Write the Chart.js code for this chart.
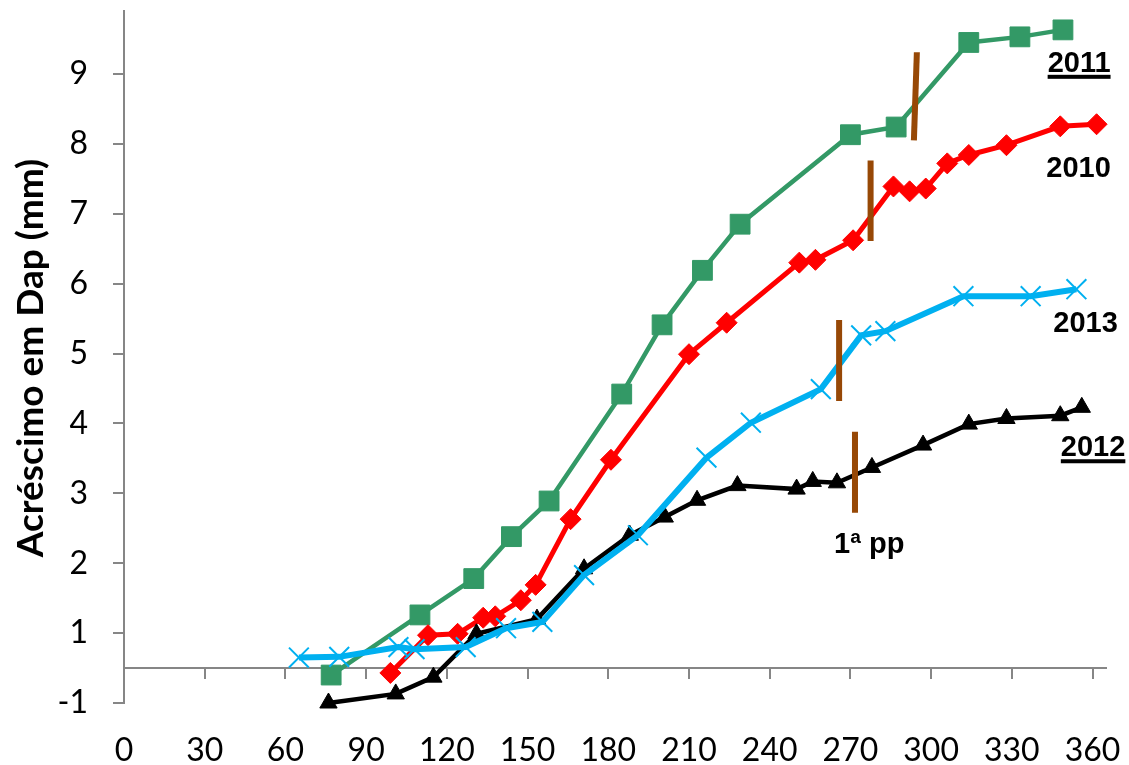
<!DOCTYPE html>
<html>
<head>
<meta charset="utf-8">
<title>Acréscimo em Dap</title>
<script src="https://cdn.jsdelivr.net/npm/chart.js@4.4.1/dist/chart.umd.min.js"></script>
<style>
  html, body { margin: 0; padding: 0; background: #fff; }
  #wrap { width: 1129px; height: 765px; }
</style>
</head>
<body>
<div id="wrap"><canvas id="chart" width="1129" height="765"></canvas></div>
<script>
// days of the year / increment in Dap (mm)
const days2011 = [77, 110, 130, 144, 158, 185, 200, 215, 229, 270, 287, 314, 333, 349];
const dap2011 = [0.40, 1.26, 1.78, 2.38, 2.89, 4.42, 5.41, 6.19, 6.85, 8.13, 8.24, 9.45, 9.53, 9.63];

const days2010 = [99, 113, 124, 133.5, 138, 147.5, 153, 166, 181, 210, 224, 251, 257, 271, 286, 292, 298, 306, 314, 328, 348, 361.5];
const dap2010 = [0.43, 0.97, 0.99, 1.22, 1.24, 1.47, 1.69, 2.63, 3.48, 4.99, 5.44, 6.30, 6.34, 6.62, 7.39, 7.32, 7.36, 7.72, 7.84, 7.98, 8.25, 8.28];

const days2013 = [65, 80, 102, 108, 127, 142, 155.5, 171, 191, 216.5, 233, 259, 274, 283, 312, 337, 354];
const dap2013 = [0.65, 0.66, 0.80, 0.77, 0.80, 1.07, 1.16, 1.83, 2.40, 3.51, 4.01, 4.49, 5.26, 5.32, 5.82, 5.82, 5.92];

const days2012 = [76, 101, 115, 131, 153.5, 171, 188, 201, 213, 228, 250, 256, 265, 278, 297, 314, 328, 348, 356];
const dap2012 = [0.0, 0.13, 0.37, 0.99, 1.20, 1.92, 2.40, 2.66, 2.90, 3.11, 3.06, 3.17, 3.15, 3.37, 3.69, 3.99, 4.07, 4.11, 4.23];

// "1ª pp" marks (start/end of each short line)
const ppDays = [[294.7, 293.6], [277.5, 277.5], [265.8, 265.8], [271.7, 271.7]];
const ppDap = [[9.31, 8.05], [7.76, 6.61], [5.48, 4.32], [3.88, 2.72]];

const xTicks = [0, 30, 60, 90, 120, 150, 180, 210, 240, 270, 300, 330, 360];
const yTicks = [0, 1, 2, 3, 4, 5, 6, 7, 8, 9];
const yTickLabels = ["-1", "1", "2", "3", "4", "5", "6", "7", "8", "9"];

const yTitle = "Acréscimo em Dap (mm)";
const notes = [
  { text: "2011", x: 355, y: 9.03, underline: true },
  { text: "2010", x: 354.8, y: 7.53, underline: false },
  { text: "2013", x: 357.4, y: 5.31, underline: false },
  { text: "2012", x: 360.2, y: 3.53, underline: true },
  { text: "1ª pp", x: 277, y: 2.14, underline: false },
];

const axisGray = "#868686";
const tickFont = { family: "Lato, 'Open Sans', sans-serif", size: 32 };

function pts(xs, ys) {
  return xs.map((x, i) => ({ x: x, y: ys[i] }));
}

const series = [
  { label: "2011", data: pts(days2011, dap2011), borderColor: "#339966", backgroundColor: "#339966",
    borderWidth: 4.5, pointStyle: "rect", pointRadius: 14, pointBorderWidth: 1, order: 4 },
  { label: "2010", data: pts(days2010, dap2010), borderColor: "#ff0000", backgroundColor: "#ff0000",
    borderWidth: 5, pointStyle: "rectRot", pointRadius: 10.5, pointBorderWidth: 1, order: 3 },
  { label: "2012", data: pts(days2012, dap2012), borderColor: "#000000", backgroundColor: "#000000",
    borderWidth: 4.5, pointStyle: "triangle", pointRadius: 10, pointBorderWidth: 1, order: 2 },
  { label: "2013", data: pts(days2013, dap2013), borderColor: "#00b0f0", backgroundColor: "#00b0f0",
    borderWidth: 6, pointStyle: "crossRot", pointRadius: 14, pointBorderWidth: 2, order: 1 },
];

ppDays.forEach((xs, i) => {
  series.push({
    label: "pp" + i,
    data: pts(xs, ppDap[i]),
    borderColor: "#974806",
    borderWidth: 6,
    pointRadius: 0,
    order: 0,
  });
});

series.forEach((s) => {
  s.clip = false;
  s.tension = 0;
  s.fill = false;
  s.xAxisID = "x";
  s.yAxisID = "y";
});

const notesPlugin = {
  id: "notes",
  afterDatasetsDraw(chart) {
    const { ctx } = chart;
    const sx = chart.scales.x;
    const sy = chart.scales.y;
    ctx.save();
    ctx.fillStyle = "#000";
    ctx.font = "bold 29px 'Liberation Sans', Arial, sans-serif";
    ctx.textAlign = "center";
    ctx.textBaseline = "alphabetic";
    notes.forEach((n) => {
      const px = sx.getPixelForValue(n.x);
      const py = sy.getPixelForValue(n.y);
      ctx.fillText(n.text, px, py);
      if (n.underline) {
        const w = ctx.measureText(n.text).width;
        ctx.fillRect(px - w / 2, py + 3, w, 4);
      }
    });
    // y axis title
    ctx.translate(43, 358);
    ctx.rotate(-Math.PI / 2);
    ctx.font = "bold 37px Lato, 'Open Sans', sans-serif";
    ctx.fillText(yTitle, 0, 0);
    ctx.restore();
  },
};

new Chart(document.getElementById("chart"), {
  type: "line",
  data: { datasets: series },
  options: {
    responsive: false,
    animation: false,
    events: [],
    layout: { autoPadding: false, padding: { left: 0, top: 11, right: 23, bottom: 0 } },
    plugins: { legend: { display: false }, tooltip: { enabled: false } },
    scales: {
      x: {
        type: "linear",
        position: "bottom",
        min: 0,
        max: 365,
        afterBuildTicks: (s) => { s.ticks = xTicks.map((v) => ({ value: v })); },
        afterFit: (s) => { s.height = 62; s.paddingLeft = 0; s.paddingRight = 0; },
        ticks: { font: tickFont, color: "#000", padding: 28, maxRotation: 0, autoSkip: false },
        grid: { display: false, drawTicks: false },
        border: { display: false },
      },
      x2: {
        type: "linear",
        axis: "x",
        position: { y: 0.5 },
        min: 0,
        max: 365,
        afterBuildTicks: (s) => { s.ticks = xTicks.map((v) => ({ value: v })); },
        afterFit: (s) => { s.paddingLeft = 0; s.paddingRight = 0; },
        ticks: { display: false },
        grid: { drawOnChartArea: false, drawTicks: true, tickLength: 10, color: axisGray, lineWidth: 2 },
        border: { display: true, color: axisGray, width: 2 },
      },
      y: {
        type: "linear",
        min: 0,
        max: 9.9,
        afterBuildTicks: (s) => { s.ticks = yTicks.map((v) => ({ value: v })); },
        afterFit: (s) => { s.width = 124; s.paddingTop = 0; s.paddingBottom = 0; },
        ticks: {
          font: tickFont,
          color: "#000",
          padding: 25,
          callback: (v) => yTickLabels[yTicks.indexOf(v)],
        },
        grid: { drawOnChartArea: false, drawTicks: true, tickLength: 11, color: axisGray, lineWidth: 2 },
        border: { display: true, color: axisGray, width: 2 },
      },
    },
  },
  plugins: [notesPlugin],
});
</script>
</body>
</html>
